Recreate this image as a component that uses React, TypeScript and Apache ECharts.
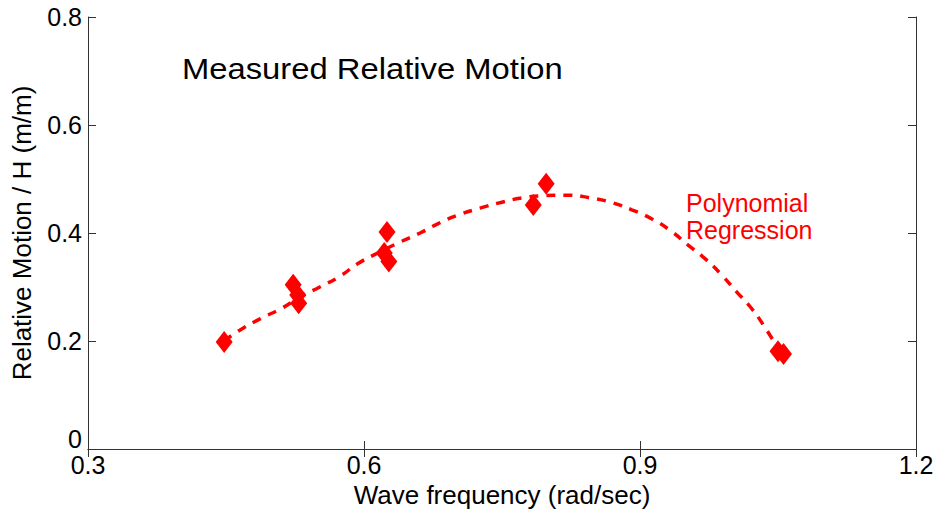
import React, { useEffect, useRef } from "react";
import * as echarts from "echarts";

const xTicks = [0.3, 0.6, 0.9, 1.2];
const yTicks = [0, 0.2, 0.4, 0.6, 0.8];

const measuredFreq = [0.448, 0.523, 0.528, 0.529, 0.625, 0.622, 0.627, 0.784, 0.798, 1.050, 1.056];
const measuredMotion = [0.198, 0.304, 0.285, 0.270, 0.402, 0.363, 0.347, 0.452, 0.491, 0.181, 0.176];

const fitFreq = [0.448, 0.465, 0.487, 0.511, 0.53, 0.552, 0.574, 0.593, 0.615, 0.639, 0.661, 0.68, 0.702, 0.726, 0.75, 0.772, 0.795, 0.821, 0.846, 0.87, 0.891, 0.913, 0.935, 0.952, 0.971, 0.989, 1.005, 1.02, 1.034, 1.053];
const fitMotion = [0.2, 0.22, 0.241, 0.261, 0.281, 0.3, 0.32, 0.343, 0.363, 0.383, 0.4, 0.417, 0.433, 0.446, 0.457, 0.465, 0.469, 0.47, 0.465, 0.456, 0.443, 0.426, 0.402, 0.378, 0.352, 0.322, 0.291, 0.263, 0.23, 0.178];

const titleText = "Measured Relative Motion";
const fitLabelLines = ["Polynomial", "Regression"];
const xTitle = "Wave frequency (rad/sec)";
const yTitle = "Relative Motion / H (m/m)";
const yZeroLabel = "0";

const FONT = "Liberation Sans, Arial, sans-serif";

export default function App() {
  const ref = useRef<HTMLDivElement>(null);
  useEffect(() => {
    if (!ref.current) return;
    const chart = echarts.init(ref.current, undefined, { renderer: "svg" });
    const axisLine = { show: true, lineStyle: { color: "#333", width: 1 } };
    const axisTick = { show: true, inside: true, length: 8, lineStyle: { color: "#333", width: 1 } };
    chart.setOption({
      animation: false,
      backgroundColor: "#fff",
      textStyle: { fontFamily: FONT },
      grid: { left: 88, right: 23, top: 17, bottom: 65, containLabel: false },
      xAxis: [
        {
          type: "value",
          min: xTicks[0],
          max: xTicks[xTicks.length - 1],
          interval: 0.3,
          position: "bottom",
          axisLine,
          axisTick,
          splitLine: { show: false },
          axisLabel: {
            color: "#000",
            fontSize: 25,
            fontFamily: FONT,
            margin: 3,
            formatter: (v: number) => String(Math.round(v * 10) / 10),
          },
          name: xTitle,
          nameLocation: "middle",
          nameGap: 31,
          nameTextStyle: { color: "#000", fontSize: 26, fontFamily: FONT },
        },
        {
          type: "value",
          min: xTicks[0],
          max: xTicks[xTicks.length - 1],
          interval: 0.3,
          position: "top",
          axisLine,
          axisTick,
          splitLine: { show: false },
          axisLabel: { show: false },
        },
      ],
      yAxis: [
        {
          type: "value",
          min: yTicks[0],
          max: yTicks[yTicks.length - 1],
          interval: 0.2,
          position: "left",
          axisLine,
          axisTick,
          splitLine: { show: false },
          axisLabel: {
            color: "#000",
            fontSize: 25,
            fontFamily: FONT,
            margin: 6,
            showMinLabel: false,
            formatter: (v: number) => String(Math.round(v * 10) / 10),
          },
          name: yTitle,
          nameLocation: "middle",
          nameGap: 53,
          nameRotate: 90,
          nameTextStyle: { color: "#000", fontSize: 26, fontFamily: FONT },
        },
        {
          type: "value",
          min: yTicks[0],
          max: yTicks[yTicks.length - 1],
          interval: 0.2,
          position: "right",
          axisLine,
          axisTick,
          splitLine: { show: false },
          axisLabel: { show: false },
        },
      ],
      graphic: [
        {
          type: "text",
          x: 182,
          y: 55,
          scaleX: 1.13,
          style: { text: titleText, fill: "#000", fontSize: 29, fontFamily: FONT, verticalAlign: "top" },
        },
        {
          type: "text",
          x: 686,
          y: 190,
          style: { text: fitLabelLines[0], fill: "#ff0000", fontSize: 25, fontFamily: FONT, verticalAlign: "top" },
        },
        {
          type: "text",
          x: 686,
          y: 217,
          style: { text: fitLabelLines[1], fill: "#ff0000", fontSize: 25, fontFamily: FONT, verticalAlign: "top" },
        },
        {
          type: "text",
          x: 82,
          y: 439,
          style: { text: yZeroLabel, fill: "#000", fontSize: 25, fontFamily: FONT, align: "right", verticalAlign: "middle" },
        },
      ],
      series: [
        {
          type: "line",
          data: fitFreq.map((x, i) => [x, fitMotion[i]]),
          showSymbol: false,
          symbol: "none",
          smooth: true,
          lineStyle: { color: "#ff0000", width: 3.5, type: [9, 8] },
          z: 2,
        },
        {
          type: "scatter",
          data: measuredFreq.map((x, i) => [x, measuredMotion[i]]),
          symbol: "diamond",
          symbolSize: [17, 22],
          itemStyle: { color: "#ff0000", opacity: 1 },
          z: 3,
        },
      ],
    });
    return () => chart.dispose();
  }, []);
  return (
    <div
      ref={ref}
      style={{ position: "absolute", left: 0, top: 0, width: 939, height: 514 }}
    />
  );
}
